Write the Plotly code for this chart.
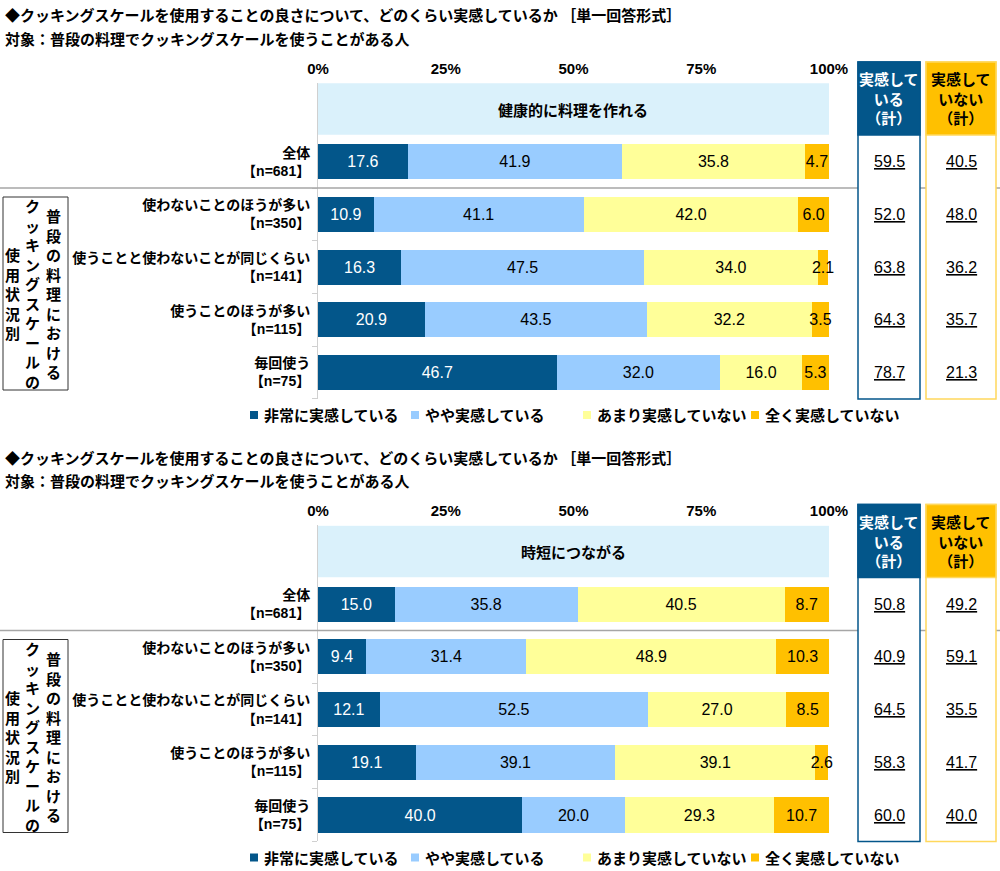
import plotly.graph_objects as go

W, H = 1000, 871

def px(x):
    return x / W

def py(y):
    return 1 - y / H

# ---------------- data ----------------
title_main = "◆クッキングスケールを使用することの良さについて、どのくらい実感しているか ［単一回答形式］"
title_sub = "対象：普段の料理でクッキングスケールを使うことがある人"
panel_titles = ["健康的に料理を作れる", "時短につながる"]
row_labels = ["全体", "使わないことのほうが多い", "使うことと使わないことが同じくらい", "使うことのほうが多い", "毎回使う"]
row_n = ["681", "350", "141", "115", "75"]
series_names = ["非常に実感している", "やや実感している", "あまり実感していない", "全く実感していない"]

p1_very = [17.6, 10.9, 16.3, 20.9, 46.7]
p1_some = [41.9, 41.1, 47.5, 43.5, 32.0]
p1_notmuch = [35.8, 42.0, 34.0, 32.2, 16.0]
p1_none = [4.7, 6.0, 2.1, 3.5, 5.3]
p1_feel = [59.5, 52.0, 63.8, 64.3, 78.7]
p1_notfeel = [40.5, 48.0, 36.2, 35.7, 21.3]

p2_very = [15.0, 9.4, 12.1, 19.1, 40.0]
p2_some = [35.8, 31.4, 52.5, 39.1, 20.0]
p2_notmuch = [40.5, 48.9, 27.0, 39.1, 29.3]
p2_none = [8.7, 10.3, 8.5, 2.6, 10.7]
p2_feel = [50.8, 40.9, 64.5, 58.3, 60.0]
p2_notfeel = [49.2, 59.1, 35.5, 41.7, 40.0]

tick_vals = [0, 25, 50, 75, 100]
tick_labels = ["0%", "25%", "50%", "75%", "100%"]
side_label_cols = ["普段の料理における", "クッキングスケールの", "使用状況別"]
sum_headers = ["実感して<br>いる<br>（計）", "実感して<br>いない<br>（計）"]

# ---------------- styling ----------------
colors = ["#03568A", "#99CCFF", "#FFFF99", "#FFC000"]
text_colors = ["white", "black", "black", "black"]
JP = "'Noto Sans CJK JP', sans-serif"
NUM = "'Liberation Sans', Arial, 'Noto Sans CJK JP', sans-serif"

panels = [
    dict(series=[p1_very, p1_some, p1_notmuch, p1_none], feel=p1_feel, notfeel=p1_notfeel),
    dict(series=[p2_very, p2_some, p2_notmuch, p2_none], feel=p2_feel, notfeel=p2_notfeel),
]

DY = 442.5          # vertical offset of second panel (px)
SLOT0 = 109.0       # centre of header slot in panel 1 (px)
STEP = 52.7         # row spacing (px)
X0, X1 = 318, 830   # plot area x (px)
XMAX = 100.2        # small headroom so rounded totals of 100.1 stay inside

fig = go.Figure()
shapes = []
annotations = []
ypos = [1, 2, 3, 4, 5]

for p, pan in enumerate(panels):
    dy = p * DY
    xa = "x" if p == 0 else "x2"
    ya = "y" if p == 0 else "y2"
    xkey = "xaxis" if p == 0 else "xaxis2"
    ykey = "yaxis" if p == 0 else "yaxis2"

    for i, vals in enumerate(pan["series"]):
        fig.add_trace(go.Bar(
            x=vals, y=ypos, orientation="h", name=series_names[i],
            marker=dict(color=colors[i], line=dict(width=0)),
            width=0.665, xaxis=xa, yaxis=ya,
            text=[f"{v:.1f}" for v in vals], textposition="inside",
            insidetextanchor="middle", textangle=0, cliponaxis=False,
            constraintext="none",
            textfont=dict(color=text_colors[i], size=16, family=NUM),
            showlegend=False, hoverinfo="skip",
        ))

    top_px = SLOT0 + dy - 0.5 * STEP
    bot_px = SLOT0 + dy + 5.5 * STEP
    fig.layout[xkey] = dict(
        domain=[px(X0), px(X1)], range=[0, XMAX], anchor=ya, side="top",
        tickvals=tick_vals, ticktext=[f"<b>{t}</b>" for t in tick_labels],
        tickfont=dict(size=15, family=NUM, color="black"),
        showgrid=False, zeroline=False, ticks="", ticklabelstandoff=5,
        automargin=False, fixedrange=True,
    )
    fig.layout[ykey] = dict(
        domain=[py(bot_px), py(top_px)], range=[5.5, -0.5], anchor=xa,
        tickvals=ypos,
        ticktext=[f"<b>{l}</b><br><b>【n={n}】</b>" for l, n in zip(row_labels, row_n)],
        tickfont=dict(size=14, family=NUM, color="black"),
        showgrid=False, zeroline=False, showline=True, linecolor="#D0D0D0", linewidth=1,
        ticks="", ticklabelstandoff=4, automargin=False, fixedrange=True,
        minor=dict(tickvals=[1.5, 2.5, 3.5, 4.5, 5.5], ticks="outside", ticklen=5,
                   tickcolor="#D0D0D0", tickwidth=1),
    )

    # header band
    shapes.append(dict(type="rect", xref=xa, yref=ya, x0=0, x1=100, y0=-0.49, y1=0.49,
                       fillcolor="#DAF1FB", line=dict(width=0), layer="below"))
    annotations.append(dict(xref=xa, yref=ya, x=50, y=0, text=f"<b>{panel_titles[p]}</b>",
                            showarrow=False, font=dict(size=15, family=JP, color="black")))

    # titles
    annotations.append(dict(xref="paper", yref="paper", x=px(3), y=py(15 + dy), xanchor="left",
                            yanchor="middle", text=f"<b>{title_main}</b>", showarrow=False,
                            font=dict(size=15, family=JP, color="black")))
    annotations.append(dict(xref="paper", yref="paper", x=px(3), y=py(38 + dy), xanchor="left",
                            yanchor="middle", text=f"<b>{title_sub}</b>", showarrow=False,
                            font=dict(size=15, family=JP, color="black")))

    # separator line
    sep = SLOT0 + dy + 1.5 * STEP
    shapes.append(dict(type="line", xref="paper", yref="paper", x0=0, x1=1, y0=py(sep), y1=py(sep),
                       line=dict(color="#A6A6A6", width=1.5)))

    # left vertical label box
    box_top, box_bot = 197 + dy, 390 + dy
    shapes.append(dict(type="rect", xref="paper", yref="paper", x0=px(3), x1=px(68),
                       y0=py(box_bot), y1=py(box_top), line=dict(color="#333333", width=1)))
    for col_text, cx in zip(side_label_cols, [53, 32, 12]):
        annotations.append(dict(xref="paper", yref="paper", x=px(cx), y=py((box_top + box_bot) / 2),
                                xanchor="center", yanchor="middle", showarrow=False,
                                text="<b>" + "<br>".join(list(col_text)) + "</b>",
                                font=dict(size=15, family=JP, color="black")))

    # right summary boxes
    hdr_top, hdr_bot, body_bot = 62 + dy, 135 + dy, 399 + dy
    box_specs = [(858, 920, "#03568A", "#03568A", "white", pan["feel"]),
                 (926, 996, "#FFC000", "#FFD85C", "black", pan["notfeel"])]
    for k, (bx0, bx1, hfill, border, htxt, vals) in enumerate(box_specs):
        shapes.append(dict(type="rect", xref="paper", yref="paper", x0=px(bx0), x1=px(bx1),
                           y0=py(body_bot), y1=py(hdr_top), fillcolor="white",
                           line=dict(color=border, width=1.5)))
        shapes.append(dict(type="rect", xref="paper", yref="paper", x0=px(bx0), x1=px(bx1),
                           y0=py(hdr_bot), y1=py(hdr_top), fillcolor=hfill,
                           line=dict(color=border, width=1.5)))
        cx = (bx0 + bx1) / 2
        annotations.append(dict(xref="paper", yref="paper", x=px(cx), y=py((hdr_top + hdr_bot) / 2),
                                xanchor="center", yanchor="middle", showarrow=False,
                                text=f"<b>{sum_headers[k]}</b>",
                                font=dict(size=15, family=JP, color=htxt)))
        for r, v in enumerate(vals):
            annotations.append(dict(xref="paper", yref=ya, x=px(cx), y=ypos[r],
                                    xanchor="center", yanchor="middle", showarrow=False,
                                    text=f"<u>{v:.1f}</u>",
                                    font=dict(size=16, family=NUM, color="black")))

    # legend
    leg_y = 415 + dy
    for name, col, tx in zip(series_names, colors, [262, 423, 595, 763]):
        shapes.append(dict(type="rect", xref="paper", yref="paper", x0=px(tx - 12), x1=px(tx - 4),
                           y0=py(leg_y + 4), y1=py(leg_y - 4), fillcolor=col, line=dict(width=0)))
        annotations.append(dict(xref="paper", yref="paper", x=px(tx), y=py(leg_y),
                                xanchor="left", yanchor="middle", showarrow=False,
                                text=f"<b>{name}</b>", font=dict(size=15, family=JP, color="black")))

fig.update_layout(
    width=W, height=H, margin=dict(l=0, r=0, t=0, b=0, pad=0, autoexpand=False),
    paper_bgcolor="white", plot_bgcolor="white",
    barmode="stack", bargap=0.3,
    shapes=shapes, annotations=annotations, showlegend=False,
    font=dict(family=JP),
)

fig.write_html(
    "out.html",
    config=dict(displayModeBar=False, responsive=False, staticPlot=True),
    post_script="document.body.style.margin='0px';document.body.style.padding='0px';document.body.style.overflow='hidden';",
)
